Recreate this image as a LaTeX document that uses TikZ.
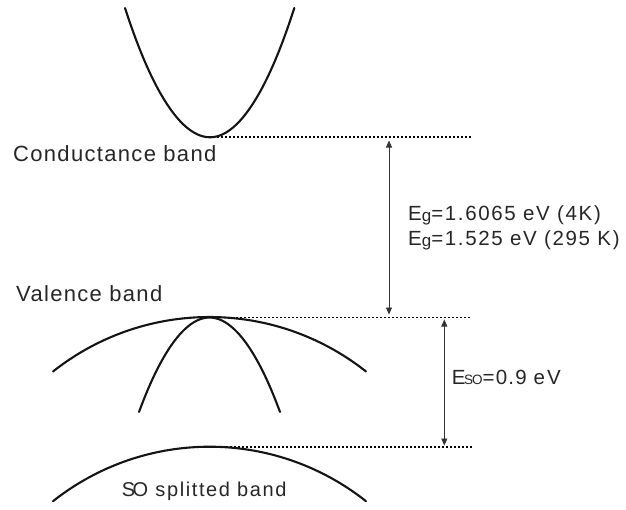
\documentclass[tikz,border=0pt]{standalone}
\usepackage{fontspec}
\setmainfont{Liberation Sans}
\usetikzlibrary{arrows.meta}
\begin{document}
\begin{tikzpicture}[x=1pt,y=-1pt,
  band/.style={line width=2.1pt, line cap=round, draw=black!92},
  level/.style={line width=1.6pt, dash pattern=on 1.5pt off 2.5pt, draw=black},
  gaparrow/.style={line width=0.9pt, draw=black!80,
    {Triangle[length=7pt,width=6pt]}-{Triangle[length=7pt,width=6pt]}},
  lbl/.style={anchor=base west, inner sep=0pt, text=black!85,
    font=\fontsize{22}{26}\selectfont\addfontfeature{LetterSpace=6}},
  solbl/.style={anchor=base west, inner sep=0pt, text=black!85,
    font=\fontsize{20}{24}\selectfont\addfontfeature{LetterSpace=8}},
  eqlbl/.style={anchor=base west, inner sep=0pt, text=black!85,
    font=\fontsize{20.5}{24}\selectfont\addfontfeature{LetterSpace=8}},
  esolbl/.style={anchor=base west, inner sep=0pt, text=black!85,
    font=\fontsize{20.5}{24}\selectfont\addfontfeature{LetterSpace=6}}
]
\useasboundingbox (0,0) rectangle (626,509);

% coordinates for levels and arrows
\coordinate (cbl) at (217,137);
\coordinate (cbr) at (472,137);
\coordinate (vbl) at (236,317.5);
\coordinate (vbr) at (472,317.5);
\coordinate (sobl) at (218,446.8);
\coordinate (sobr) at (472,446.8);
\coordinate (egtop) at (389,140.5);
\coordinate (egbot) at (389,314.5);
\coordinate (esotop) at (444.3,319.5);
\coordinate (esobot) at (444.3,445.5);

% dotted levels
\draw[level] (cbl) -- (cbr);
\draw[level] (vbl) -- (vbr);
\draw[level] (sobl) -- (sobr);

% bands
\draw[band] (125,8) parabola bend (210,137.3) (294.3,8);
\draw[band] plot[domain=-38.39:38.39, samples=80, smooth]
  ({209.5+252*sin(\x)}, {569-252*cos(\x)});
\draw[band] (139,412) parabola bend (209.5,317.5) (280,412);
\draw[band] plot[domain=-38.39:38.39, samples=80, smooth]
  ({209.5+252*sin(\x)}, {698.7-252*cos(\x)});

% arrows
\draw[gaparrow] (egtop) -- (egbot);
\draw[gaparrow] (esotop) -- (esobot);

% labels
\node[lbl] (cb) at (13,161.7) {Conductance band};
\node[lbl] (vb) at (16,301) {Valence band};
\node[solbl] (so) at (121.7,496) {S\kern-2.5ptO splitted band};
\node[eqlbl] (eg1) at (408,220.7) {E\raisebox{-1pt}{\fontsize{17}{17}\selectfont g}=1.6065 eV (4K)};
\node[eqlbl] (eg2) at (408,245.7) {E\raisebox{-1pt}{\fontsize{17}{17}\selectfont g}=1.525 eV (295 K)};
\node[esolbl] (eso) at (451.7,384) {E\kern-1.5pt{\fontsize{13.5}{15}\selectfont S\kern-1ptO}=0.9 e\kern2pt V};
\end{tikzpicture}
\end{document}
